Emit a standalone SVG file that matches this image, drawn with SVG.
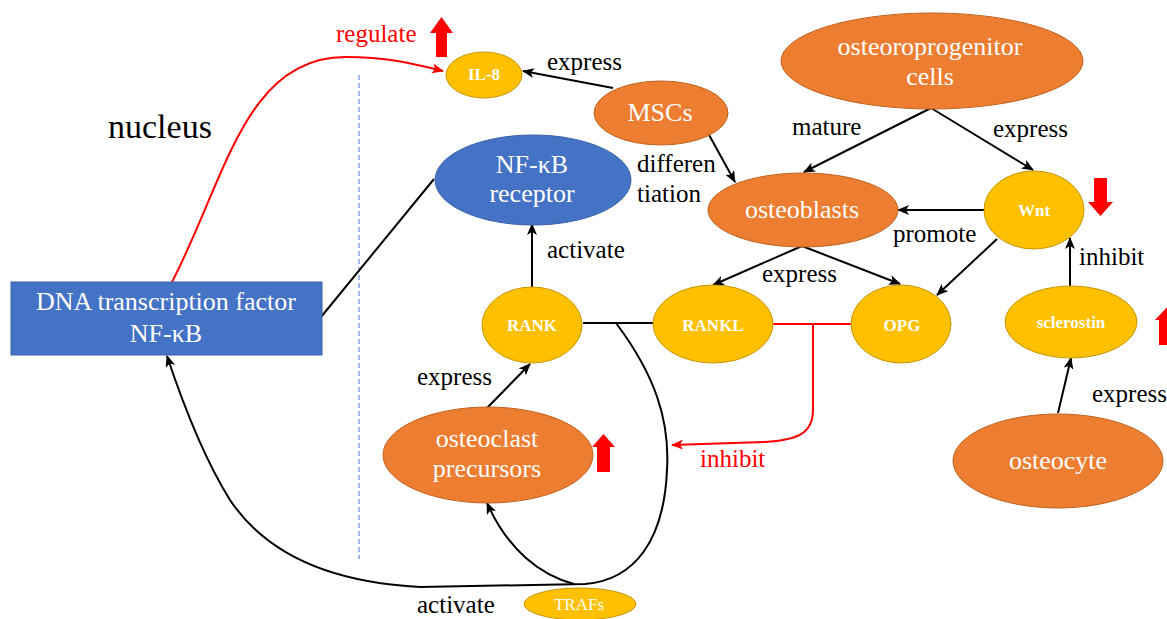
<svg xmlns="http://www.w3.org/2000/svg" width="1167" height="619" viewBox="0 0 1167 619">
<style>
.lbl{font-family:"Liberation Serif","Times New Roman",serif;font-size:25px;fill:#000}
.red{fill:#ff0000}
.nt{font-family:"Liberation Serif","Times New Roman",serif;font-size:26px;fill:#fff;text-anchor:middle}
.sm{font-family:"Liberation Serif","Times New Roman",serif;font-size:17px;font-weight:bold;fill:#fff;text-anchor:middle}
.or{fill:#ED7D31;stroke:#C0621F;stroke-width:1}
.ye{fill:#FFC000;stroke:#C89500;stroke-width:1}
.bl{fill:#4472C4;stroke:#3A62A8;stroke-width:1}
.c{fill:none;stroke:#000;stroke-width:2}
.cr{fill:none;stroke:#ff0000;stroke-width:2}
.ba{fill:#ff0000}
</style>
<defs>
<marker id="ah" markerUnits="userSpaceOnUse" markerWidth="12" markerHeight="10" refX="11" refY="5" orient="auto"><path d="M0,0 L12,5 L0,10 L3,5 z" fill="#000"/></marker>
<marker id="ahr" markerUnits="userSpaceOnUse" markerWidth="12" markerHeight="10" refX="11" refY="5" orient="auto"><path d="M0,0 L12,5 L0,10 L3,5 z" fill="#ff0000"/></marker>
</defs>
<rect width="1167" height="619" fill="#fff"/>

<line x1="359" y1="75" x2="359" y2="559" stroke="#4472C4" stroke-width="1" stroke-dasharray="5,3"/>

<g id="connectors">
<path class="cr" d="M172,282 C225,180 245,57 345,57 C390,57 415,64 443,71" marker-end="url(#ahr)"/>
<path class="c" d="M613,88 L523,71" marker-end="url(#ah)"/>
<path class="c" d="M708,133 L735,182" marker-end="url(#ah)"/>
<path class="c" d="M931,108 L804,172" marker-end="url(#ah)"/>
<path class="c" d="M931,108 L1033,170" marker-end="url(#ah)"/>
<path class="c" d="M984,210 L898,210" marker-end="url(#ah)"/>
<path class="c" d="M997,239 L937,295" marker-end="url(#ah)"/>
<path class="c" d="M802,246 L713,285" marker-end="url(#ah)"/>
<path class="c" d="M802,246 L900,284" marker-end="url(#ah)"/>
<path class="c" d="M1070,287 L1070,238" marker-end="url(#ah)"/>
<path class="c" d="M1058,413 L1071,358" marker-end="url(#ah)"/>
<path class="c" d="M532,287 L532,224" marker-end="url(#ah)"/>
<path class="c" d="M487,408 L530,364" marker-end="url(#ah)"/>
<path class="c" d="M321,317 L434,179"/>
<path class="c" d="M583,323 L653,323"/>
<path class="c" d="M616,323 C655,375 670,420 667,470 C664,540 635,580 585,584 L420,587 C340,583 270,560 230,500 C205,460 185,410 167,356" marker-end="url(#ah)"/>
<path class="c" d="M574,584 C540,575 508,550 487,503" marker-end="url(#ah)"/>
<path class="cr" d="M772,324 L851,324"/>
<path class="cr" d="M813,324 L813,410 C813,435 795,440 765,442 L672,445" marker-end="url(#ahr)"/>
</g>

<g id="dna">
<rect x="11" y="282" width="311" height="73" class="bl"/>
<text class="nt" x="166" y="310">DNA transcription factor</text>
<text class="nt" x="166" y="342">NF-κB</text>
</g>
<g id="il8">
<ellipse cx="484" cy="75" rx="38" ry="23" class="ye"/>
<text class="sm" x="484" y="80">IL-8</text>
</g>
<g id="mscs">
<ellipse cx="661" cy="113" rx="67" ry="32" class="or"/>
<text class="nt" x="660" y="121">MSCs</text>
</g>
<g id="osteoprogenitor">
<ellipse cx="932" cy="61" rx="151" ry="48" class="or"/>
<text class="nt" x="930" y="55">osteoroprogenitor</text>
<text class="nt" x="930" y="85">cells</text>
</g>
<g id="receptor">
<ellipse cx="533" cy="180" rx="98" ry="45" class="bl"/>
<text class="nt" x="532" y="173">NF-κB</text>
<text class="nt" x="532" y="202">receptor</text>
</g>
<g id="osteoblasts">
<ellipse cx="803" cy="210" rx="95" ry="37" class="or"/>
<text class="nt" x="802" y="218">osteoblasts</text>
</g>
<g id="wnt">
<ellipse cx="1034" cy="210" rx="50" ry="39" class="ye"/>
<text class="sm" x="1034" y="216">Wnt</text>
</g>
<g id="rank">
<ellipse cx="532" cy="325" rx="50" ry="38" class="ye"/>
<text class="sm" x="532" y="331">RANK</text>
</g>
<g id="rankl">
<ellipse cx="713" cy="324" rx="60" ry="39" class="ye"/>
<text class="sm" x="713" y="331">RANKL</text>
</g>
<g id="opg">
<ellipse cx="901" cy="324" rx="50" ry="39" class="ye"/>
<text class="sm" x="902" y="331">OPG</text>
</g>
<g id="sclerostin">
<ellipse cx="1071" cy="322" rx="66" ry="36" class="ye"/>
<text class="sm" x="1071" y="328">sclerostin</text>
</g>
<g id="osteoclast">
<ellipse cx="488" cy="455" rx="105" ry="48" class="or"/>
<text class="nt" x="487" y="447">osteoclast</text>
<text class="nt" x="487" y="477">precursors</text>
</g>
<g id="osteocyte">
<ellipse cx="1058" cy="461" rx="105" ry="47" class="or"/>
<text class="nt" x="1058" y="469">osteocyte</text>
</g>
<g id="trafs">
<ellipse cx="580" cy="604" rx="56" ry="16" class="ye"/>
<text x="579" y="610" style="font-family:'Liberation Serif','Times New Roman',serif;font-size:17px;fill:#fff;text-anchor:middle">TRAFs</text>
</g>

<g id="indicators">
<path class="ba" d="M441.5,17 L453,33 L447,33 L447,57 L436,57 L436,33 L430,33 z"/>
<path class="ba" d="M603.5,434 L615,447 L610,447 L610,472 L597,472 L597,447 L592,447 z"/>
<path class="ba" d="M1100.5,216 L1113,202 L1107,202 L1107,178 L1094,178 L1094,202 L1088,202 z"/>
<path class="ba" d="M1169,305 L1183,320 L1179,320 L1179,345 L1159,345 L1159,320 L1155,320 z"/>
</g>

<g id="labels">
<text class="lbl" x="108" y="138" style="font-size:34px">nucleus</text>
<text class="lbl red" x="336" y="42">regulate</text>
<text class="lbl" x="547" y="70">express</text>
<text class="lbl" x="792" y="135">mature</text>
<text class="lbl" x="993" y="137">express</text>
<text class="lbl" x="637" y="172">differen</text>
<text class="lbl" x="637" y="202">tiation</text>
<text class="lbl" x="893" y="242">promote</text>
<text class="lbl" x="547" y="258">activate</text>
<text class="lbl" x="762" y="282">express</text>
<text class="lbl" x="1079" y="265">inhibit</text>
<text class="lbl" x="417" y="385">express</text>
<text class="lbl red" x="700" y="467">inhibit</text>
<text class="lbl" x="1092" y="402">express</text>
<text class="lbl" x="417" y="613">activate</text>
</g>
</svg>
